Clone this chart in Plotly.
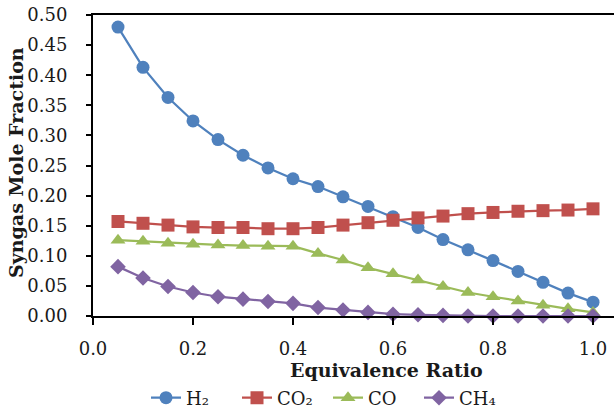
import plotly.graph_objects as go

phi = [0.05, 0.10, 0.15, 0.20, 0.25, 0.30, 0.35, 0.40, 0.45, 0.50,
       0.55, 0.60, 0.65, 0.70, 0.75, 0.80, 0.85, 0.90, 0.95, 1.00]
h2 = [0.480, 0.413, 0.363, 0.324, 0.293, 0.267, 0.246, 0.228, 0.215, 0.198,
      0.182, 0.165, 0.147, 0.127, 0.110, 0.092, 0.074, 0.056, 0.038, 0.023]
co2 = [0.157, 0.154, 0.151, 0.148, 0.147, 0.147, 0.145, 0.145, 0.147, 0.151,
       0.155, 0.159, 0.163, 0.166, 0.170, 0.172, 0.174, 0.175, 0.176, 0.178]
co = [0.126, 0.124, 0.121, 0.119, 0.118, 0.117, 0.116, 0.116, 0.104, 0.093,
      0.080, 0.070, 0.060, 0.049, 0.039, 0.032, 0.025, 0.018, 0.012, 0.006]
ch4 = [0.082, 0.063, 0.049, 0.039, 0.032, 0.028, 0.024, 0.021, 0.014, 0.010,
       0.006, 0.003, 0.002, 0.001, 0.000, 0.000, 0.000, 0.000, 0.000, 0.000]

names = ["H₂", "CO₂", "CO", "CH₄"]
colors = ["#4F81BD", "#C0504D", "#9BBB59", "#8064A2"]
symbols = ["circle", "square", "triangle-up", "diamond"]
sizes = [13, 13, 13, 12]
series = [h2, co2, co, ch4]

FONT = "DejaVu Serif"
TXT = "#1a1a1a"

W, H = 614, 410
PX0, PX1 = 93, 614   # plot area left/right
PY0, PY1 = 15, 316   # plot area top/bottom
PW, PH = PX1 - PX0, PY1 - PY0


def xp(px):
    return (px - PX0) / PW


def yp(py):
    return (PY1 - py) / PH


fig = go.Figure()
for n, c, s, sz, y in zip(names, colors, symbols, sizes, series):
    fig.add_trace(go.Scatter(
        x=phi, y=y, name=n, mode="lines+markers",
        line=dict(color=c, width=2.25),
        marker=dict(symbol=s, size=sz, color=c),
        cliponaxis=False,
    ))

fig.update_layout(
    width=W, height=H,
    margin=dict(l=PX0, r=W - PX1, t=PY0, b=H - PY1, autoexpand=False),
    paper_bgcolor="white", plot_bgcolor="white",
    font=dict(family=FONT, size=18, color=TXT),
    showlegend=True,
    legend=dict(orientation="h", x=xp(328), xanchor="center",
                y=yp(398), yanchor="middle",
                font=dict(family=FONT, size=18, color=TXT),
                itemwidth=30, entrywidth=46, entrywidthmode="pixels",
                tracegroupgap=0, bgcolor="rgba(0,0,0,0)"),
    xaxis=dict(range=[0, PW / 500], tickvals=[0, 0.2, 0.4, 0.6, 0.8, 1.0],
               ticktext=["0.0", "0.2", "0.4", "0.6", "0.8", "1.0"],
               showline=True, linecolor="black", linewidth=2, mirror=True,
               ticks="outside", ticklen=7, tickcolor="black", tickwidth=1.5,
               ticklabelstandoff=8,
               showgrid=False, zeroline=False, automargin=False),
    yaxis=dict(range=[0, 0.5], tickvals=[i * 0.05 for i in range(11)],
               tickformat=".2f",
               showline=True, linecolor="black", linewidth=2,
               ticks="outside", ticklen=5, tickcolor="black", tickwidth=1.5,
               ticklabelstandoff=15,
               showgrid=False, zeroline=False, automargin=False),
    annotations=[
        dict(text="<b>Equivalence Ratio</b>", x=xp(386), xref="paper",
             y=yp(370), yref="paper",
             showarrow=False, xanchor="center", yanchor="middle",
             font=dict(family=FONT, size=19, color=TXT)),
        dict(text="<b>Syngas Mole Fraction</b>", x=xp(16), xref="paper",
             y=yp(163), yref="paper",
             showarrow=False, textangle=-90, xanchor="center", yanchor="middle",
             font=dict(family=FONT, size=19, color=TXT)),
    ],
)

fig.write_html("out.html",
               config={"displayModeBar": False},
               post_script="document.body.style.margin='0';document.body.style.padding='0';")
